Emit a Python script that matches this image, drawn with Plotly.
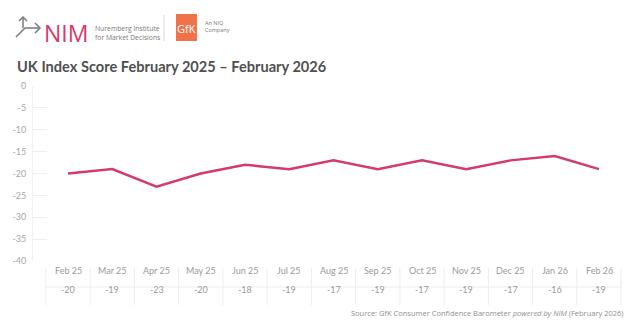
import plotly.graph_objects as go

months = ["Feb 25", "Mar 25", "Apr 25", "May 25", "Jun 25", "Jul 25", "Aug 25",
          "Sep 25", "Oct 25", "Nov 25", "Dec 25", "Jan 26", "Feb 26"]
scores = [-20, -19, -23, -20, -18, -19, -17, -19, -17, -19, -17, -16, -19]
y_ticks = [0, -5, -10, -15, -20, -25, -30, -35, -40]

W, H = 640, 331
ML, MR, MT, MB = 33, 10, 86, 70
plot_h = H - MT - MB
pw = W - ML - MR
xs = list(range(len(months)))

LINE = "#d43a6c"
GRAY = "#9a9a9a"


def py(px):
    return -(px - (H - MB)) / plot_h


def pxx(px):
    return (px - ML) / pw


def P(x, y):
    return pxx(x), py(y)


fig = go.Figure()
fig.add_trace(go.Scatter(x=xs, y=scores, mode="lines",
                         line=dict(color=LINE, width=2.5), hoverinfo="skip"))

ann = []
shapes = []
# table below the plot
for i, (m, v) in enumerate(zip(months, scores)):
    ann.append(dict(x=i, y=py(278), xref="x", yref="paper", text=m, showarrow=False,
                    font=dict(family="Lato", size=9, color=GRAY)))
    ann.append(dict(x=i, y=py(297), xref="x", yref="paper", text=str(v), showarrow=False,
                    font=dict(family="Lato", size=9, color=GRAY)))
for i in range(len(months) + 1):
    shapes.append(dict(type="line", xref="x", yref="paper", x0=i - 0.5, x1=i - 0.5,
                       y0=py(268), y1=py(305), line=dict(color="#ececec", width=1)))
shapes.append(dict(type="line", xref="x", yref="paper", x0=-0.5, x1=len(months) - 0.5,
                   y0=py(287), y1=py(287), line=dict(color="#ececec", width=1)))

# title
x_, y_ = P(15, 66)
ann.append(dict(x=x_, y=y_, xref="paper", yref="paper", xanchor="left",
                yanchor="middle", showarrow=False,
                text="<b>UK Index Score February 2025 \u2013 February 2026</b>",
                font=dict(family="Lato", size=14.6, color="#505050")))

# source
x_, y_ = P(626, 320)
ann.append(dict(x=x_, y=y_, xref="paper", yref="paper", showarrow=False,
                xanchor="right",
                text="Source: GfK Consumer Confidence Barometer <i>powered by NIM</i> (February 2026)",
                font=dict(family="Open Sans", size=7.5, color="#8f8f8f")))

# logo: arrow icon
ic = "#7a7a7a"
ax0, ay0 = P(16, 37)
ax1, ay1 = P(25, 28)
ax2, ay2 = P(40, 28)
shapes.append(dict(type="path", xref="paper", yref="paper",
                   path=f"M {ax0} {ay0} L {ax1} {ay1} L {ax2} {ay2}",
                   line=dict(color=ic, width=1.5)))
a1, b1 = P(35, 23); a2, b2 = P(40, 28); a3, b3 = P(35, 33)
shapes.append(dict(type="path", xref="paper", yref="paper",
                   path=f"M {a1} {b1} L {a2} {b2} L {a3} {b3}",
                   line=dict(color=ic, width=1.5)))
u0, v0 = P(23, 28); u1, v1 = P(23, 17)
shapes.append(dict(type="line", xref="paper", yref="paper", x0=u0, y0=v0, x1=u1, y1=v1,
                   line=dict(color=ic, width=1.5)))
c1, d1 = P(19, 21); c2, d2 = P(23, 17); c3, d3 = P(27, 21)
shapes.append(dict(type="path", xref="paper", yref="paper",
                   path=f"M {c1} {d1} L {c2} {d2} L {c3} {d3}",
                   line=dict(color=ic, width=1.5)))
x_, y_ = P(42, 33)
ann.append(dict(x=x_, y=y_, xref="paper", yref="paper", xanchor="left", yanchor="middle",
                showarrow=False, text="NIM",
                font=dict(family="Open Sans", size=23, color="#d43a6c")))
x_, y_ = P(93, 33)
ann.append(dict(x=x_, y=y_, xref="paper", yref="paper", xanchor="left", yanchor="middle",
                showarrow=False, text="Nuremberg Institute<br>for Market Decisions", align="left",
                font=dict(family="Open Sans", size=6.8, color="#7a7a7a")))
l0, m0 = P(164, 15); l1, m1 = P(164, 41)
shapes.append(dict(type="line", xref="paper", yref="paper", x0=l0, y0=m0, x1=l1, y1=m1,
                   line=dict(color="#d8d8d8", width=1)))
g0, h0 = P(176, 14); g1, h1 = P(197, 41)
shapes.append(dict(type="rect", xref="paper", yref="paper", x0=g0, y0=h0, x1=g1, y1=h1,
                   fillcolor="#f0724a", line=dict(width=0), layer="below"))
x_, y_ = P(186.5, 28)
ann.append(dict(x=x_, y=y_, xref="paper", yref="paper", showarrow=False, text="GfK",
                xanchor="center", yanchor="middle",
                font=dict(family="Open Sans", size=11, color="white")))
x_, y_ = P(203, 26)
ann.append(dict(x=x_, y=y_, xref="paper", yref="paper", xanchor="left", yanchor="middle",
                showarrow=False, text="An NIQ<br>Company", align="left",
                font=dict(family="Open Sans", size=5.5, color="#7a7a7a")))

fig.update_layout(
    width=W, height=H, margin=dict(l=ML, r=MR, t=MT, b=MB),
    paper_bgcolor="white", plot_bgcolor="white", showlegend=False,
    xaxis=dict(range=[-0.791, 12.70], showticklabels=False, showgrid=False,
               zeroline=False, showline=False, fixedrange=True),
    yaxis=dict(range=[-40, 0], tickvals=y_ticks, ticktext=[str(t) for t in y_ticks],
               showgrid=False, zeroline=False, showline=True, linecolor="#f2f2f2",
               ticks="inside", ticklen=14, tickcolor="#eeeeee", ticklabelstandoff=4,
               tickfont=dict(family="Lato", size=9, color="#a8a8a8")),
    annotations=ann, shapes=shapes,
)
fig.write_html("out.html")
